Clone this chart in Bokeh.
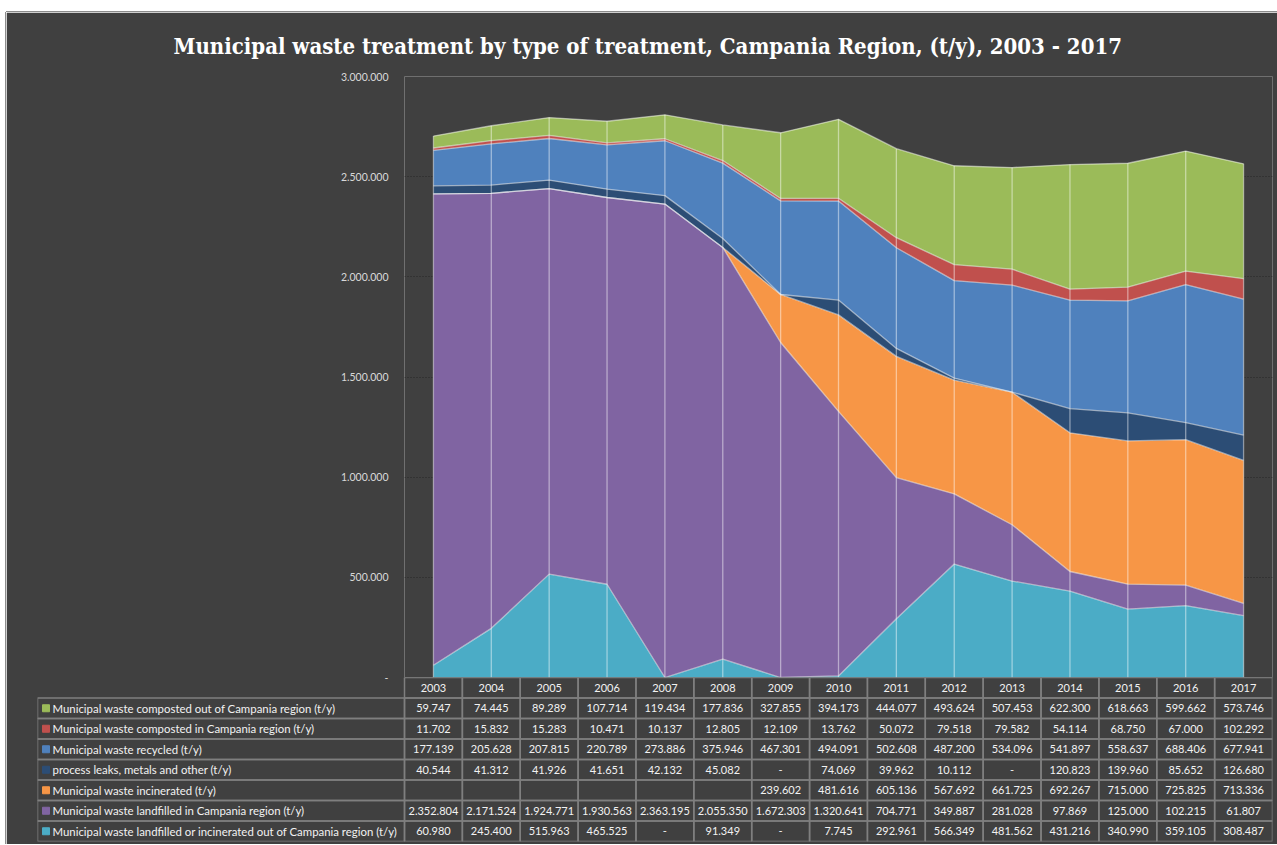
import numpy as np
from bokeh.plotting import figure
from bokeh.models import Range1d, FixedTicker, ColumnDataSource, Spacer
from bokeh.layouts import column, row
from bokeh.embed import file_html
from bokeh.resources import INLINE
from bokeh.core.properties import value

# ---------------- data ----------------
years = list(range(2003, 2018))

composted_out = [59747, 74445, 89289, 107714, 119434, 177836, 327855, 394173,
                 444077, 493624, 507453, 622300, 618663, 599662, 573746]
composted_in = [11702, 15832, 15283, 10471, 10137, 12805, 12109, 13762,
                50072, 79518, 79582, 54114, 68750, 67000, 102292]
recycled = [177139, 205628, 207815, 220789, 273886, 375946, 467301, 494091,
            502608, 487200, 534096, 541897, 558637, 688406, 677941]
process_leaks = [40544, 41312, 41926, 41651, 42132, 45082, 0, 74069,
                 39962, 10112, 0, 120823, 139960, 85652, 126680]
incinerated = [None, None, None, None, None, None, 239602, 481616,
               605136, 567692, 661725, 692267, 715000, 725825, 713336]
landfilled_in = [2352804, 2171524, 1924771, 1930563, 2363195, 2055350, 1672303, 1320641,
                 704771, 349887, 281028, 97869, 125000, 102215, 61807]
landfilled_out = [60980, 245400, 515963, 465525, 0, 91349, 0, 7745,
                  292961, 566349, 481562, 431216, 340990, 359105, 308487]

series_labels = [
    "Municipal waste composted out of Campania region (t/y)",
    "Municipal waste composted in Campania region (t/y)",
    "Municipal waste recycled (t/y)",
    "process leaks, metals and other (t/y)",
    "Municipal waste incinerated (t/y)",
    "Municipal waste landfilled in Campania region (t/y)",
    "Municipal waste landfilled or incinerated out of Campania region (t/y)",
]
series_colors = ["#9BBB59", "#C0504D", "#4F81BD", "#2C4D75", "#F79646", "#8064A2", "#4BACC6"]
series_values = [composted_out, composted_in, recycled, process_leaks,
                 incinerated, landfilled_in, landfilled_out]

ytick_vals = [0, 500000, 1000000, 1500000, 2000000, 2500000, 3000000]
ytick_labels = ["-", "500.000", "1.000.000", "1.500.000", "2.000.000", "2.500.000", "3.000.000"]

title_text = "Municipal waste treatment by type of treatment, Campania Region, (t/y), 2003 - 2017"

# ---------------- styles / layout ----------------
BG = "#404040"
FONT = "Lato"
GRIDC = "#7F7F7F"
TXT = "#F2F2F2"
EDGE = "#8C8C8C"

PAGE_X0 = 6          # panel left (page px)
PAGE_Y0 = 12         # panel top (page px)
W = 1277 - PAGE_X0   # figure width
H = 844 - PAGE_Y0    # figure height
FR_L, FR_R, FR_T, FR_B = 404, 1272, 75, 677     # chart frame (page px)
TAB_L, TAB_B = 37, 841                           # table left / bottom (page px)
TAB_H = 844 - FR_B
TITLE_X = 173

left_frame = FR_L - PAGE_X0
right_border = 1277 - FR_R
frame_w = FR_R - FR_L
col_w = frame_w / 15.0
x0_tab = 2002.5 - (FR_L - TAB_L) / col_w

# ---------------- chart ----------------
p = figure(width=W, height=H, x_range=Range1d(2002.5, 2017.5),
           y_range=Range1d(0, 3000000), output_backend="svg", toolbar_location=None,
           x_axis_location=None, title=title_text,
           min_border_left=left_frame, min_border_right=right_border,
           min_border_top=FR_T - PAGE_Y0, min_border_bottom=H - (FR_T - PAGE_Y0) - (FR_B - FR_T),
           background_fill_color=BG, border_fill_color=BG, outline_line_color=None,
           frame_align=False)
p.xgrid.visible = False

p.title.align = "left"
p.title.offset = (TITLE_X - PAGE_X0) - left_frame
p.title.standoff = 36
p.title.text_font = "DejaVu Serif Condensed"
p.title.text_font_size = "22px"
p.title.text_font_style = "bold"
p.title.text_color = "#FFFFFF"

ticker = FixedTicker(ticks=ytick_vals)
p.yaxis.ticker = ticker
p.ygrid.ticker = ticker
p.yaxis.major_label_overrides = {v: s for v, s in zip(ytick_vals, ytick_labels)}
p.yaxis.axis_line_color = None
p.yaxis.major_tick_line_color = None
p.yaxis.minor_tick_line_color = None
p.yaxis.major_tick_out = 0
p.yaxis.major_tick_in = 0
p.yaxis.major_label_standoff = 16
p.yaxis.major_label_text_font = FONT
p.yaxis.major_label_text_font_size = "10.5px"
p.yaxis.major_label_text_color = "#D9D9D9"
p.ygrid.grid_line_color = "#262626"
p.ygrid.grid_line_dash = "1 2"
p.ygrid.grid_line_width = 1

# stack, bottom to top
stack_order = list(range(len(series_values)))[::-1]
src = {"year": years}
names = []
for i in stack_order:
    name = "s%d" % i
    src[name] = [0 if v is None else v for v in series_values[i]]
    names.append(name)
source = ColumnDataSource(src)
p.varea_stack(stackers=names, x="year", color=[series_colors[i] for i in stack_order],
              source=source)

cum = np.zeros(len(years))
for name in names:
    cum = cum + np.array(src[name], dtype=float)
    p.line(years, cum.tolist(), line_color="white", line_alpha=0.5, line_width=1.3)

p.segment(x0=years, y0=[0] * len(years), x1=years, y1=cum.tolist(),
          line_color="white", line_alpha=0.45, line_width=1.3)

# ---------------- data table (overlaid on chart's bottom border) ----------------
t = figure(width=W, height=TAB_H, x_range=Range1d(x0_tab, 2017.5), y_range=Range1d(0, 8),
           output_backend="svg", toolbar_location=None,
           x_axis_location=None, y_axis_location=None,
           min_border_left=TAB_L - PAGE_X0, min_border_right=right_border,
           min_border_top=0, min_border_bottom=844 - TAB_B,
           background_fill_alpha=0, border_fill_alpha=0, outline_line_color=None,
           frame_align=False)
t.grid.visible = False
t.margin = (-TAB_H, 0, 0, 0)

def fmt(v):
    if v is None:
        return ""
    if v == 0:
        return "-"
    return "{:,}".format(v).replace(",", ".")

cl, cr, cb, ct = [], [], [], []
tx, ty, tt = [], [], []
for y in years:
    cl.append(y - 0.5); cr.append(y + 0.5); cb.append(7); ct.append(8)
    tx.append(y); ty.append(7.5); tt.append(str(y))
lx, ly, lt, sq_c = [], [], [], []
for r, vals in enumerate(series_values):
    yb = 6 - r
    cl.append(x0_tab); cr.append(2002.5); cb.append(yb); ct.append(yb + 1)
    lx.append(x0_tab + 15.0 / col_w); ly.append(yb + 0.5); lt.append(series_labels[r])
    sq_c.append(series_colors[r])
    for y, v in zip(years, vals):
        cl.append(y - 0.5); cr.append(y + 0.5); cb.append(yb); ct.append(yb + 1)
        tx.append(y); ty.append(yb + 0.5); tt.append(fmt(v))

t.quad(left=cl, right=cr, bottom=cb, top=ct, fill_color=None,
       line_color=GRIDC, line_width=1.5)
t.text(x=tx, y=ty, text=tt, text_align="center", text_baseline="middle",
       text_font=value(FONT), text_font_size="11px", text_color=TXT)
t.text(x=lx, y=ly, text=lt, text_align="left", text_baseline="middle",
       text_font=value(FONT), text_font_size="11.4px", text_color=TXT)
t.scatter(x=[x0_tab + 8.5 / col_w] * len(ly), y=ly, marker="square", size=7,
          fill_color=sq_c, line_color=sq_c)

panel = column(Spacer(width=W, height=PAGE_Y0 - 1),
               Spacer(width=W, height=1, styles={"background-color": EDGE}),
               p, t, spacing=0)
layout = row(Spacer(width=PAGE_X0 - 1, height=10),
             column(Spacer(width=1, height=PAGE_Y0), Spacer(width=1, height=H, styles={"background-color": EDGE}), spacing=0),
             panel, spacing=0)

open("out.html", "w").write(file_html(layout, INLINE))
